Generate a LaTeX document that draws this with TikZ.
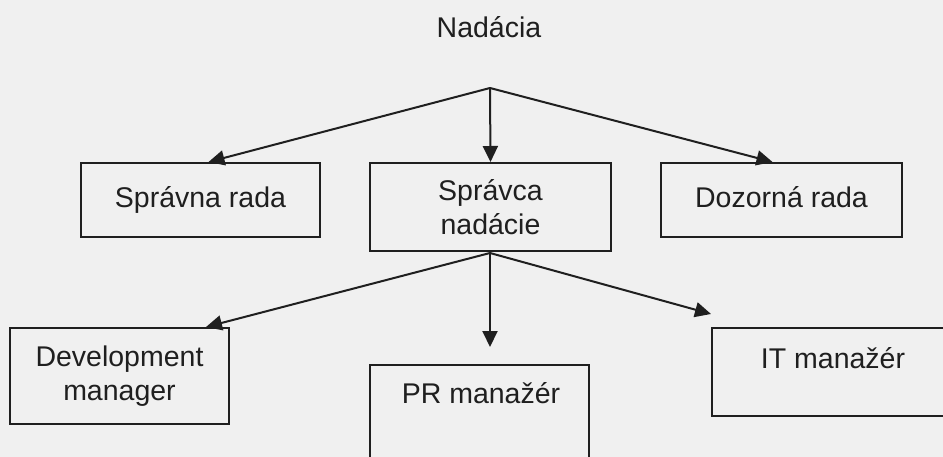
\documentclass[tikz,border=0pt]{standalone}
\usepackage{fontspec}
\setmainfont{Liberation Sans}
\usetikzlibrary{positioning, arrows.meta}
\definecolor{paper}{gray}{0.94}
\definecolor{ink}{gray}{0.12}
\tikzset{
	x=1pt,
	y=-1pt,
	font=\fontsize{28.5}{34.5}\selectfont,
	box/.style={
		draw=ink,
		text=ink,
		line width=2pt,
		rectangle,
		align=center,
		inner sep=0pt
	},
	caption/.style={
		text=ink,
		inner sep=0pt
	},
	arr/.style={
		draw=ink,
		line width=2pt,
		-{Triangle[length=16pt,width=15pt]}
	}
}

\begin{document}
\begin{tikzpicture}
\path[use as bounding box, clip] (0,0) rectangle (943,457);
\fill[paper] (0,0) rectangle (943,457);

% top level
\node[caption] (nadacia) at (489,27) {Nadácia};
\coordinate (top) at (490,88);

\node[box, minimum width=241pt, minimum height=88pt] (spravca) at (490.5,207) {Správca\\nadácie};
\node[box, minimum width=239pt, minimum height=74pt, below left=0pt and 48pt of spravca.north west] (spravna) {Správna rada};
\node[box, minimum width=241pt, minimum height=74pt, text depth=6pt, below right=0pt and 48pt of spravca.north east] (dozor) {Dozorná rada};

% staff
\coordinate (low) at (490,253);
\node[box, minimum width=219pt, minimum height=96pt] (dev) at (119.5,376) {Development\\manager};
\node[box, minimum width=219pt, minimum height=130pt, anchor=north] (pr) at (479.5,364) {};
\node[caption] (prtext) at (481,393) {PR manažér};
\node[box, minimum width=242pt, minimum height=88pt, text depth=28pt] (it) at (833,372) {IT manažér};

\draw[arr] (top) -- ([xshift=8pt]spravna.north);
\draw[arr] (top) -- (spravca.north);
\draw[arr] (top) -- ([xshift=-9pt]dozor.north);

\draw[arr] (low) -- ([xshift=-24pt]dev.north east);
\draw[arr, shorten >=17pt] (low) -- (low |- pr.north);
\draw[arr] (low) -- ([yshift=13pt]it.north west);
\end{tikzpicture}
\end{document}
